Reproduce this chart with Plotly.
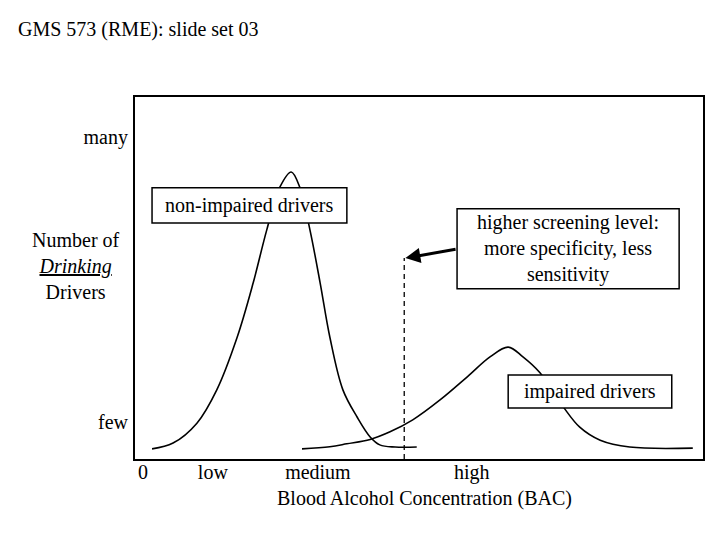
import plotly.graph_objects as go

# ---- data (BAC index 0-100, relative number of drivers 0-100) ----
nonimp_x = [3.0, 6.7, 10.9, 14.4, 18.0, 20.8, 23.2, 25.5, 27.5, 29.0, 30.8, 32.6, 34.3, 36.6, 39.1, 41.4, 43.1, 45.8, 49.6]
nonimp_y = [2.8, 4.4, 9.9, 19.1, 33.7, 48.6, 63.3, 75.1, 79.3, 75.1, 63.3, 48.6, 33.7, 19.1, 11.6, 6.1, 3.9, 3.3, 3.3]

imp_x = [29.4, 34.3, 37.3, 41.4, 44.9, 48.9, 53.7, 58.5, 62.5, 65.7, 68.3, 71.3, 75.4, 78.3, 81.9, 87.1, 98.2]
imp_y = [2.8, 3.4, 4.2, 5.4, 7.5, 10.8, 16.3, 22.7, 28.2, 30.9, 28.2, 23.8, 14.4, 8.8, 5.2, 3.3, 3.0]

threshold_x = [47.4, 47.4]
threshold_y = [0, 55.5]

x_tickvals = [1.4, 13.7, 32.2, 59.3]
x_ticktext = ["0", "low", "medium", "high"]
y_tickvals = [10.2, 89.0]
y_ticktext = ["few", "many"]

FONT = "Liberation Serif"

fig = go.Figure()
fig.add_trace(go.Scatter(x=nonimp_x, y=nonimp_y, mode="lines", line=dict(color="black", width=1.6, shape="spline"),
                         showlegend=False, hoverinfo="skip"))
fig.add_trace(go.Scatter(x=imp_x, y=imp_y, mode="lines", line=dict(color="black", width=1.6, shape="spline"),
                         showlegend=False, hoverinfo="skip"))
fig.add_trace(go.Scatter(x=threshold_x, y=threshold_y, mode="lines",
                         line=dict(color="black", width=1.3, dash="5px,4px"), showlegend=False, hoverinfo="skip"))

# label boxes (white-filled, covering curves)
boxes = [
    (3.0, 65.2, 37.3, 74.9),
    (56.7, 47.0, 95.8, 69.1),
    (65.7, 14.1, 94.5, 23.2),
]
for x0, y0, x1, y1 in boxes:
    fig.add_shape(type="rect", xref="x", yref="y", x0=x0, y0=y0, x1=x1, y1=y1,
                  line=dict(color="black", width=1.5), fillcolor="white", layer="above")

txtfont = dict(family=FONT, size=20, color="black")
fig.add_annotation(x=(3.0 + 37.3) / 2, y=(65.2 + 74.9) / 2, text="non-impaired drivers", showarrow=False, font=txtfont)
fig.add_annotation(x=(56.7 + 95.8) / 2, y=(47.0 + 69.1) / 2,
                   text="higher screening level:<br>more specificity, less<br>sensitivity",
                   showarrow=False, font=txtfont, align="center")
fig.add_annotation(x=(65.7 + 94.5) / 2, y=(14.1 + 23.2) / 2, text="impaired drivers", showarrow=False, font=txtfont)

# arrow pointing at the threshold
fig.add_annotation(x=47.6, y=55.5, ax=56.7, ay=58.0, xref="x", yref="y", axref="x", ayref="y",
                   text="", showarrow=True, arrowhead=2, arrowsize=1, arrowwidth=3, arrowcolor="black")

# y-axis title
fig.add_annotation(xref="paper", yref="paper", x=-0.104, y=0.533,
                   text="Number of<br><i><u>Drinking</u></i><br>Drivers", showarrow=False,
                   font=txtfont, align="center", xanchor="center", yanchor="middle")
# x-axis title
fig.add_annotation(xref="paper", yref="paper", x=0.51, y=-0.108,
                   text="Blood Alcohol Concentration (BAC)", showarrow=False,
                   font=txtfont, xanchor="center", yanchor="middle")

# page body has an 8px margin, so the figure is sized/offset to compensate
fig.update_layout(
    width=712, height=532,
    margin=dict(l=127, r=17, t=89, b=81),
    paper_bgcolor="white", plot_bgcolor="white",
    title=dict(text="GMS 573 (RME): slide set 03", x=10 / 712, xanchor="left", xref="container",
               y=1 - 21 / 532, yanchor="middle", yref="container",
               font=dict(family=FONT, size=20, color="black")),
    font=txtfont,
    xaxis=dict(range=[0, 100], showgrid=False, zeroline=False, showline=True, mirror=True,
               linecolor="black", linewidth=2, ticks="", tickvals=x_tickvals, ticktext=x_ticktext,
               tickfont=txtfont, ticklabelstandoff=-6, fixedrange=True),
    yaxis=dict(range=[0, 100], showgrid=False, zeroline=False, showline=True, mirror=True,
               linecolor="black", linewidth=2, ticks="", tickvals=y_tickvals, ticktext=y_ticktext,
               tickfont=txtfont, ticklabelstandoff=1, fixedrange=True),
)

fig.write_html("out.html")
